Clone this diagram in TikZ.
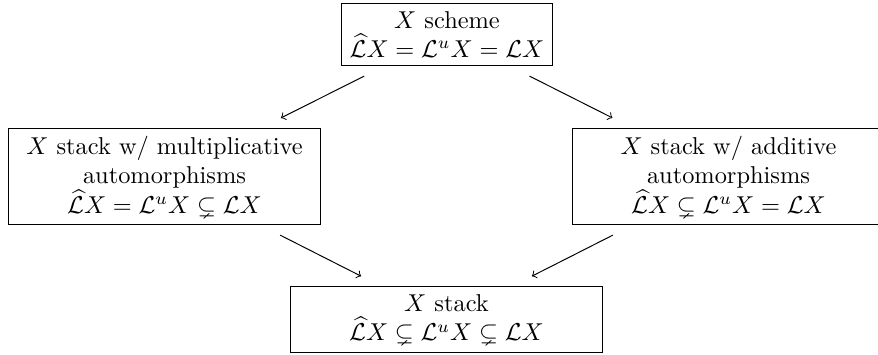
\documentclass[tikz,border=0pt]{standalone}
\usepackage{amsmath,amssymb}
\newcommand{\Lhat}{\widehat{\mathcal{L}}}

\begin{document}
\begin{tikzpicture}[x=.41pt,y=.41pt,
    box/.style={draw,align=flush center},
    widebox/.style={box,text width=121pt},
    arr/.style={->,shorten <=9pt,shorten >=9pt}]
        \useasboundingbox (0,0) rectangle (878,354);
        \node[box] (scheme) at (447,319.5) {$X$ scheme\\$\Lhat X=\mathcal{L}^uX=\mathcal{L}X$};
        \node[widebox] (mult) at (164.5,177.5) {$X$ stack w/ multiplicative\\automorphisms\\$\Lhat X=\mathcal{L}^uX\subsetneq\mathcal{L}X$};
        \node[widebox] (add) at (728.5,177.5) {$X$ stack w/ additive\\automorphisms\\$\Lhat X\subsetneq\mathcal{L}^uX=\mathcal{L}X$};
        \node[widebox] (stack) at (446.5,34.5) {$X$ stack\\$\Lhat X\subsetneq\mathcal{L}^uX\subsetneq\mathcal{L}X$};

        \draw[arr] (scheme) -- (mult);
        \draw[arr] (scheme) -- (add);
        \draw[arr] (mult) -- (stack);
        \draw[arr] (add) -- (stack);
\end{tikzpicture}
\end{document}
